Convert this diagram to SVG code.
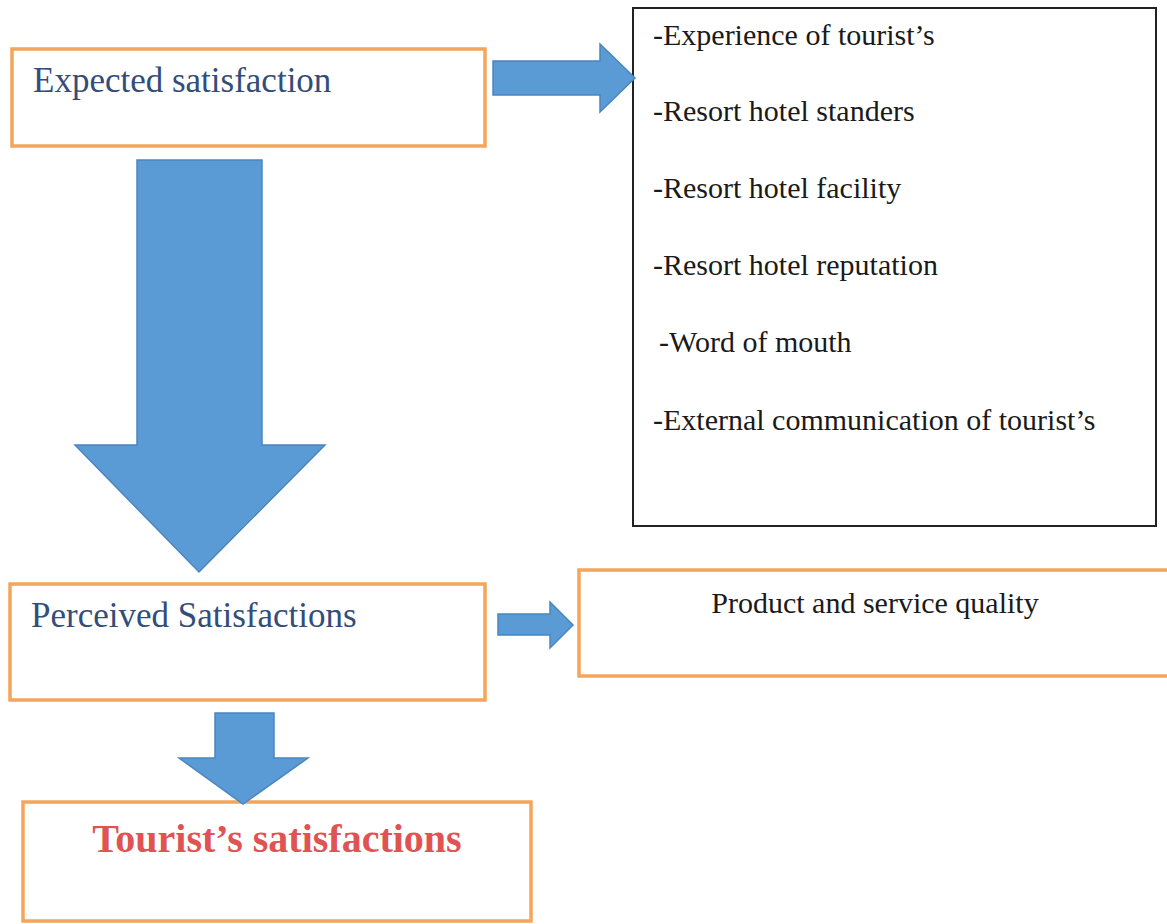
<svg xmlns="http://www.w3.org/2000/svg" width="1167" height="924" viewBox="0 0 1167 924">
<style>
.obox{fill:#fff;stroke:#F4A55B;stroke-width:3.5}
.kbox{fill:#fff;stroke:#222;stroke-width:2}
.arrow{fill:#5B9BD5;stroke:#4A86C0;stroke-width:1.5;stroke-linejoin:miter}
.lbl{font-family:"Liberation Serif","Times New Roman",serif;font-size:35px;fill:#334D7A}
.item{font-family:"Liberation Serif","Times New Roman",serif;font-size:30px;fill:#1a1a1a}
.ttl{font-family:"Liberation Serif","Times New Roman",serif;font-size:40px;font-weight:bold;fill:#E05353}
</style>
<rect width="1167" height="924" fill="#fff"/>
<g id="factors">
<rect class="kbox" x="633" y="8" width="523" height="518"/>
<text class="item" x="653" y="45">-Experience of tourist’s</text>
<text class="item" x="653" y="121">-Resort hotel standers</text>
<text class="item" x="653" y="198">-Resort hotel facility</text>
<text class="item" x="653" y="275">-Resort hotel reputation</text>
<text class="item" x="659" y="352">-Word of mouth</text>
<text class="item" x="653" y="430">-External communication of tourist’s</text>
</g>
<g id="expected">
<rect class="obox" x="12" y="49" width="473" height="97"/>
<text class="lbl" x="33" y="92">Expected satisfaction</text>
</g>
<g id="perceived">
<rect class="obox" x="10" y="584" width="475" height="116"/>
<text class="lbl" x="31" y="627">Perceived Satisfactions</text>
</g>
<g id="quality">
<rect class="obox" x="579" y="570" width="600" height="106"/>
<text class="item" x="875" y="613" text-anchor="middle">Product and service quality</text>
</g>
<g id="tourist">
<rect class="obox" x="23" y="802" width="508" height="119"/>
<text class="ttl" x="277" y="852" text-anchor="middle">Tourist’s satisfactions</text>
</g>
<g id="connectors">
<path class="arrow" d="M493,61 H600 V44 L635,78 L600,112 V95 H493 Z"/>
<path class="arrow" d="M137,160 H262 V445 H325 L199,572 L75,445 H137 Z"/>
<path class="arrow" d="M498,614 H550 V602 L573,625 L550,648 V635 H498 Z"/>
<path class="arrow" d="M215,713 H274 V758 H308 L243,804 L179,758 H215 Z"/>
</g>
</svg>
